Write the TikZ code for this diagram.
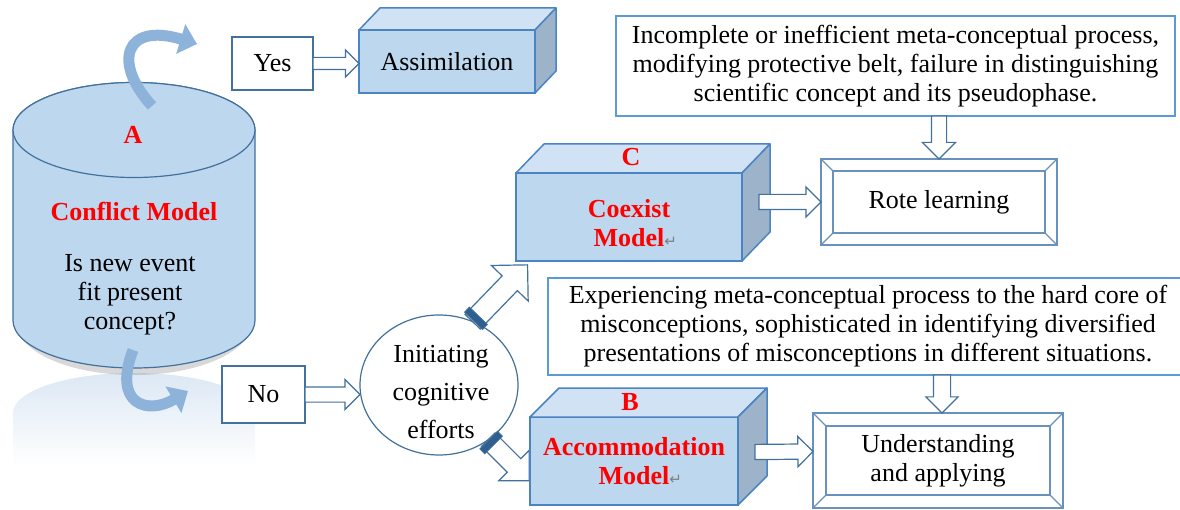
\documentclass[tikz,border=0pt]{standalone}
\usepackage{fontspec}
\setmainfont{Liberation Serif}
\newfontfamily\symfont{DejaVu Sans}
\usetikzlibrary{shapes.geometric,shapes.arrows,arrows.meta,calc}
\definecolor{faceblue}{HTML}{BDD7EE}
\definecolor{topblue}{HTML}{D0E2F3}
\definecolor{sideblue}{HTML}{9DB3CA}
\definecolor{edgeblue}{HTML}{4A84C2}
\definecolor{boxblue}{HTML}{5B9BD5}
\definecolor{arrowblue}{HTML}{41719C}
\definecolor{bandblue}{HTML}{2F5F8F}
\definecolor{curveblue}{HTML}{8DB3DB}
\definecolor{bevelblue}{HTML}{6A90BD}
\definecolor{reflblue}{HTML}{DCE8F4}
\begin{document}
\begin{tikzpicture}[x=1pt,y=1pt,
  every node/.style={inner sep=0pt,outer sep=0pt,font=\fontsize{26}{29}\selectfont},
  cylface/.style={draw=arrowblue,line width=1.2pt,fill=faceblue},
  frontface/.style={draw=edgeblue,line width=1.5pt,fill=faceblue,align=center,text=red,font=\fontsize{26}{29}\selectfont\bfseries},
  topface/.style={draw=edgeblue,line width=1.5pt,fill=topblue,line join=round},
  sideface/.style={draw=edgeblue,line width=1.5pt,fill=sideblue,line join=round},
  plainbox/.style={draw=arrowblue,line width=1.2pt,fill=white},
  textbox/.style={draw=boxblue,line width=1.5pt,fill=white,align=center},
  bevelbox/.style={draw=bevelblue,line width=1.5pt,fill=white,align=center},
  bevel/.style={draw=bevelblue,line width=1.2pt},
  redlabel/.style={text=red,align=center,font=\fontsize{26}{29}\selectfont\bfseries},
  hollow/.style={single arrow,draw=arrowblue,line width=1.2pt,fill=white,minimum width=0pt,text height=14pt,text depth=0pt,single arrow head extend=7.5pt,pos=0,anchor=tail,sloped,allow upside down},
  band/.style={fill=bandblue,draw=arrowblue,line width=0.8pt,minimum width=7pt,minimum height=25pt,sloped,allow upside down},
  curved/.style={draw=curveblue,line width=11pt,-{Triangle[length=17pt,width=30pt]}}
]
\useasboundingbox (0,0) rectangle (1180,-510);
\fill[white] (0,0) rectangle (1180,-510);

\shade[top color=reflblue,bottom color=white] (13,-413) arc[start angle=180,end angle=0,x radius=121,y radius=40] -- (255,-465) -- (13,-465) -- cycle;
\fill[gray,opacity=0.3] (16,-322) arc[start angle=180,end angle=360,x radius=118,y radius=53] -- cycle;
\draw[cylface] (13,-130) -- (13,-320.5) arc[start angle=180,end angle=360,x radius=121,y radius=47.5] -- (255,-130) arc[start angle=0,end angle=180,x radius=121,y radius=47.5] -- cycle;
\draw[cylface] (134,-130) ellipse [x radius=121,y radius=47.5];
\node[redlabel] (alab) at (133,-135) {A};
\node[redlabel] (conf) at (134,-211) {Conflict Model};
\node[align=center] (quest) at (130,-295) {Is new event\\fit present\\concept?};
\draw[curved] (152,-106) .. controls (112,-62) and (125,-22) .. (197,-44);
\draw[curved] (133,-350) .. controls (112,-405) and (148,-415) .. (188,-391);

\node[plainbox,minimum width=81pt,minimum height=53pt] (yes) at (272.5,-63.5) {Yes};
\node[plainbox,minimum width=83pt,minimum height=57pt] (no) at (263.5,-394.5) {No};

\node[frontface,minimum width=176pt,minimum height=63pt,text=black,font=\fontsize{26}{29}\selectfont] (assim) at (447,-61.5) {Assimilation};
\draw[topface] (assim.north west) -- ++(21,22) -- ($(assim.north east)+(21,22)$) -- (assim.north east) -- cycle;
\draw[sideface] (assim.north east) -- ++(21,22) -- ($(assim.south east)+(21,22)$) -- (assim.south east) -- cycle;
\path (yes.east) -- node[hollow,minimum height=46pt,text height=11pt] {} (yes.east -| assim.west);

\node[textbox,minimum width=559pt,minimum height=100pt] (incomp) at (895.5,-66) {Incomplete or inefficient meta-conceptual process,\\modifying protective belt, failure in distinguishing\\scientific concept and its pseudophase.};
\node[bevelbox,minimum width=236pt,minimum height=86pt] (rote) at (939,-202) {Rote learning};
\draw[bevel] ($(rote.north west)+(12,-12)$) rectangle ($(rote.south east)+(-12,12)$);
\draw[bevel] (rote.north west) -- ++(12,-12) (rote.north east) -- ++(-12,-12) (rote.south west) -- ++(12,12) (rote.south east) -- ++(-12,12);
\path (rote.north |- incomp.south) -- node[hollow,minimum height=43pt,single arrow head extend=9pt] {} (rote.north);

\node[draw=arrowblue,line width=1.2pt,fill=white,ellipse,minimum width=158pt,minimum height=140pt] (init) at (439,-385) {};
\node[align=center,font=\fontsize{26}{38}\selectfont] (inittxt) at (441,-392) {Initiating\\cognitive\\efforts};
\path (no.east) -- node[hollow,minimum height=55pt] {} (no.east -| init.west);
\path (init.62) -- node[hollow,minimum height=79pt,text height=20pt,single arrow head extend=15pt] {} node[pos=0.06,band] {} ++(46:79);
\path (init.-48) -- node[hollow,minimum height=58pt,text height=18pt,single arrow head extend=12pt] {} node[pos=0.07,band] {} ++(-45:58);

\node[frontface,minimum width=226pt,minimum height=88pt] (coex) at (629,-217) {\rule{0pt}{30pt}Coexist\\Model\rlap{\textcolor{gray}{\symfont\mdseries\fontsize{15}{15}\selectfont ↵}}};
\draw[topface] (coex.north west) -- ++(28,29) -- ($(coex.north east)+(28,29)$) -- (coex.north east) -- cycle;
\draw[sideface] (coex.north east) -- ++(28,29) -- ($(coex.south east)+(28,29)$) -- (coex.south east) -- cycle;
\node[redlabel] (clab) at (631,-157) {C};
\path ($(rote.west -| coex.east)+(17,0)$) -- node[hollow,minimum height=62pt] {} (rote.west);

\node[textbox,minimum width=640pt,minimum height=97pt] (exper) at (868,-326.5) {Experiencing meta-conceptual process to the hard core of\\misconceptions, sophisticated in identifying diversified\\presentations of misconceptions in different situations.};

\node[frontface,minimum width=208pt,minimum height=88pt] (accom) at (634,-461) {Accommodation\\Model\rlap{\textcolor{gray}{\symfont\mdseries\fontsize{15}{15}\selectfont ↵}}};
\draw[topface] (accom.north west) -- ++(29,29) -- ($(accom.north east)+(29,29)$) -- (accom.north east) -- cycle;
\draw[sideface] (accom.north east) -- ++(29,29) -- ($(accom.south east)+(29,29)$) -- (accom.south east) -- cycle;
\node[redlabel] (blab) at (630,-402) {B};

\node[bevelbox,minimum width=250pt,minimum height=95pt] (und) at (938,-460.5) {Understanding\\and applying};
\draw[bevel] ($(und.north west)+(13,-13)$) rectangle ($(und.south east)+(-13,13)$);
\draw[bevel] (und.north west) -- ++(13,-13) (und.north east) -- ++(-13,-13) (und.south west) -- ++(13,13) (und.south east) -- ++(-13,13);
\path ($(accom.east)+(17,9)$) -- node[hollow,minimum height=58pt] {} ($(und.west)+(0,9)$);
\path ($(und.north |- exper.south)+(4,0)$) -- node[hollow,minimum height=38pt,text height=16pt] {} ($(und.north)+(4,0)$);
\end{tikzpicture}
\end{document}
